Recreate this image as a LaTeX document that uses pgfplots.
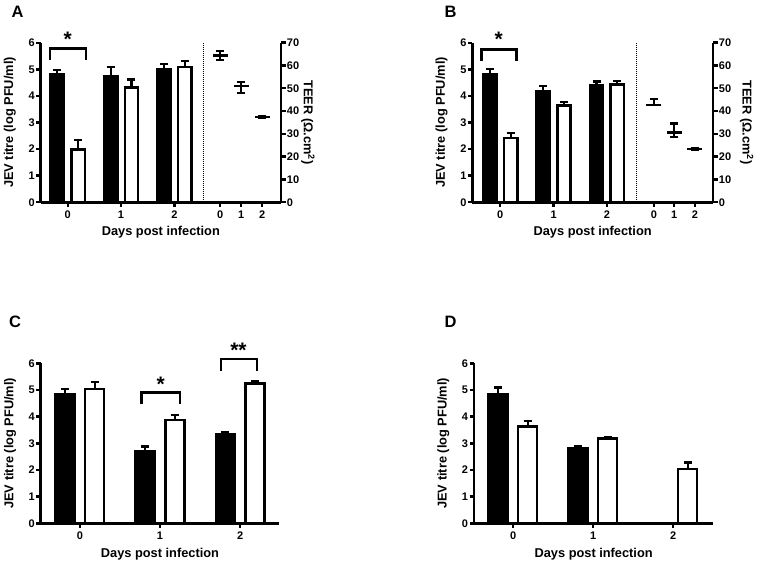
\documentclass[border=0pt]{standalone}
\usepackage{fontspec}
\setmainfont{Liberation Sans}
\usepackage{pgfplots}
\pgfplotsset{compat=1.18}

\pgfplotsset{
  gp/.style={
    scale only axis, clip=false,
    axis x line*=bottom, axis y line*=left,
    axis line style={line width=2.7pt, -},
    ymin=0, ymax=6, ytick={0,1,...,6},
    tick align=outside, major tick length=4.5pt,
    every tick/.style={line width=2.4pt, black},
    /pgf/number format/assume math mode=true,
    every tick label/.append style={font=\fontsize{11}{12}\selectfont\bfseries},
    yticklabel style={inner sep=1.2pt},
    xticklabel style={inner sep=1.5pt, yshift=-2.5pt},
    label style={font=\fontsize{12.8}{14}\selectfont\bfseries},
    xlabel={Days post infection},
    ylabel={JEV titre (log PFU/ml)},
    xlabel style={at={(axis description cs:0.5,-0.19)}, anchor=center},
    ylabel style={at={(axis description cs:-0.128,0.5)}, anchor=center},
  },
  blk/.style={ybar, bar shift=0pt, bar width=#1, fill=black, draw=black, line width=2.5pt,
    error bars/.cd, y dir=plus, y explicit,
    error bar style={line width=2.2pt, black},
    error mark options={rotate=90, line width=2.2pt, mark size=4pt, black}},
  wht/.style={ybar, bar shift=0pt, bar width=#1, fill=white, draw=black, line width=2.5pt,
    error bars/.cd, y dir=plus, y explicit,
    error bar style={line width=2.2pt, black},
    error mark options={rotate=90, line width=2.2pt, mark size=4pt, black}},
  teer/.style={only marks, mark=-, mark size=7.5pt, black,
    mark options={line width=2.5pt},
    error bars/.cd, y dir=both, y explicit,
    error bar style={line width=2.2pt, black},
    error mark options={rotate=90, line width=2.2pt, mark size=4pt, black}},
  teeraxis/.style={
    scale only axis, clip=false,
    axis x line=none, axis y line*=right,
    axis line style={line width=2.7pt, -},
    ymin=0, ymax=70, ytick={0,10,...,70},
    tick align=outside, major tick length=4.5pt,
    every tick/.style={line width=2.4pt, black},
    /pgf/number format/assume math mode=true,
    every tick label/.append style={font=\fontsize{11}{12}\selectfont\bfseries},
    yticklabel style={inner sep=1.2pt},
    label style={font=\fontsize{12.8}{14}\selectfont\bfseries},
    ylabel={TEER (Ω.cm\textsuperscript{2})},
  },
}
\tikzset{
  brk/.style={line width=2.5pt, black},
  star/.style={font=\fontsize{21}{22}\selectfont\bfseries, inner sep=0pt},
  plab/.style={font=\fontsize{16.5}{18}\selectfont\bfseries, inner sep=0pt},
}

\begin{document}
\begin{tikzpicture}
\useasboundingbox (0,0) rectangle (761pt,563pt);

% ---------------- Panel A ----------------
\begin{axis}[gp, at={(40.7pt,360.7pt)}, anchor=south west,
  width=240.3pt, height=159.6pt, xmin=-0.507, xmax=4.0,
  xtick={0,1,2,2.857,3.251,3.645}, xticklabels={0,1,2,0,1,2}]
\addplot[blk=13.3pt] coordinates {
  (-0.195,4.82) +- (0,0.15)
  (0.805,4.75) +- (0,0.35)
  (1.805,5.02) +- (0,0.18)};
\addplot[wht=13.3pt] coordinates {
  (0.195,1.99) +- (0,0.35)
  (1.195,4.31) +- (0,0.31)
  (2.195,5.09) +- (0,0.21)};
\draw[line width=0.9pt, dash pattern=on 1pt off 1pt] (axis cs:2.54,0) -- (axis cs:2.54,6);
\draw[brk] (axis cs:-0.33,5.35) -- (axis cs:-0.33,5.79) -- (axis cs:0.34,5.79) -- (axis cs:0.34,5.35);
\node[star] at (axis cs:0,6.12) {*};
\end{axis}
\begin{axis}[teeraxis, at={(40.7pt,360.7pt)}, anchor=south west,
  width=240.3pt, height=159.6pt, xmin=-0.507, xmax=4.0,
  ylabel style={at={(axis description cs:1.112,0.5)}, anchor=center, rotate=180}]
\addplot[teer] coordinates {
  (2.857,64.3) += (0,2.1) -= (0,1.9)
  (3.251,51.1) += (0,1.8) -= (0,3.3)
  (3.645,37.5) += (0,0.5) -= (0,0.5)};
\end{axis}

% ---------------- Panel B ----------------
\begin{axis}[gp, at={(472.3pt,360.7pt)}, anchor=south west,
  width=240.7pt, height=159.6pt, xmin=-0.525, xmax=3.99,
  xtick={0,1,2,2.88,3.26,3.65}, xticklabels={0,1,2,0,1,2}]
\addplot[blk=13.3pt] coordinates {
  (-0.195,4.82) +- (0,0.19)
  (0.805,4.16) +- (0,0.21)
  (1.805,4.40) +- (0,0.14)};
\addplot[wht=13.3pt] coordinates {
  (0.195,2.42) +- (0,0.20)
  (1.195,3.63) +- (0,0.13)
  (2.195,4.42) +- (0,0.14)};
\draw[line width=0.9pt, dash pattern=on 1pt off 1pt] (axis cs:2.56,0) -- (axis cs:2.56,6);
\draw[brk] (axis cs:-0.35,5.33) -- (axis cs:-0.35,5.75) -- (axis cs:0.30,5.75) -- (axis cs:0.30,5.33);
\node[star] at (axis cs:-0.03,6.12) {*};
\end{axis}
\begin{axis}[teeraxis, at={(472.3pt,360.7pt)}, anchor=south west,
  width=240.7pt, height=159.6pt, xmin=-0.525, xmax=3.99,
  ylabel style={at={(axis description cs:1.14,0.5)}, anchor=center, rotate=180}]
\addplot[teer] coordinates {
  (2.88,42.7) += (0,2.6) -= (0,0)
  (3.26,30.7) += (0,3.9) -= (0,1.9)
  (3.65,23.4) += (0,0.5) -= (0,0.5)};
\end{axis}

% ---------------- Panel C ----------------
\begin{axis}[gp, at={(40.7pt,39.7pt)}, anchor=south west,
  width=238.6pt, height=160pt, xmin=-0.49, xmax=2.49,
  xtick={0,1,2}]
\addplot[blk=19pt] coordinates {
  (-0.185,4.84) +- (0,0.19)
  (0.815,2.71) +- (0,0.17)
  (1.815,3.34) +- (0,0.09)};
\addplot[wht=19pt] coordinates {
  (0.185,5.03) +- (0,0.28)
  (1.185,3.88) +- (0,0.18)
  (2.185,5.24) +- (0,0.11)};
\draw[brk] (axis cs:0.77,4.46) -- (axis cs:0.77,4.9) -- (axis cs:1.25,4.9) -- (axis cs:1.25,4.46);
\node[star] at (axis cs:1.01,5.2) {*};
\draw[brk] (axis cs:1.76,5.72) -- (axis cs:1.76,6.16) -- (axis cs:2.21,6.16) -- (axis cs:2.21,5.72);
\node[star] at (axis cs:1.98,6.5) {**};
\end{axis}

% ---------------- Panel D ----------------
\begin{axis}[gp, at={(474pt,39.7pt)}, anchor=south west,
  width=239.3pt, height=160pt, xmin=-0.49, xmax=2.5,
  xtick={0,1,2}]
\addplot[blk=19pt] coordinates {
  (-0.19,4.85) +- (0,0.24)
  (0.81,2.80) +- (0,0.10)};
\addplot[wht=19pt] coordinates {
  (0.18,3.63) +- (0,0.20)
  (1.18,3.18) +- (0,0.06)
  (2.18,2.04) +- (0,0.24)};
\end{axis}

% panel letters
\node[plab] at (17.5pt,551.3pt) {A};
\node[plab] at (450.5pt,551.3pt) {B};
\node[plab] at (15pt,241.5pt) {C};
\node[plab] at (450.5pt,241.5pt) {D};
\end{tikzpicture}
\end{document}
